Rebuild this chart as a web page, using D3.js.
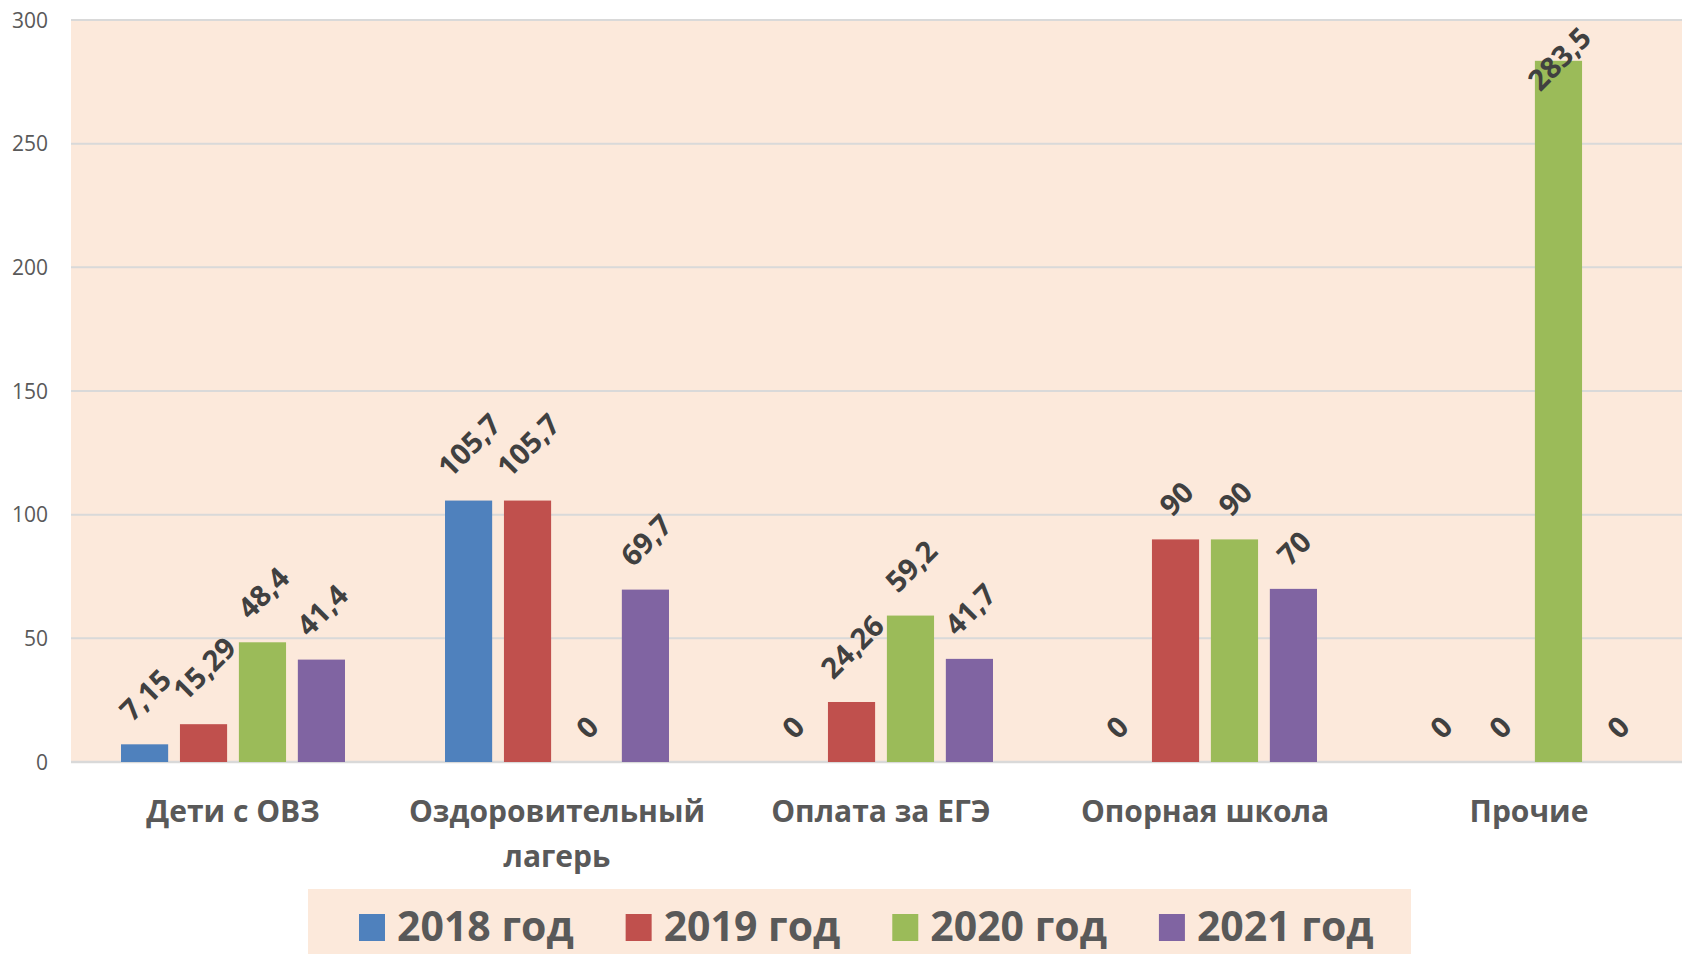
<!DOCTYPE html>
<html>
<head>
<meta charset="utf-8">
<script src="https://cdn.jsdelivr.net/npm/d3@7"></script>
<style>
  html, body { margin: 0; padding: 0; background: #fff; }
  svg { display: block; font-family: "Open Sans", "Noto Sans", sans-serif; }
</style>
</head>
<body>
<div id="chart"></div>
<script>
// данные
const categories = ["Дети с ОВЗ", "Оздоровительный лагерь", "Оплата за ЕГЭ", "Опорная школа", "Прочие"];
const years = ["2018 год", "2019 год", "2020 год", "2021 год"];
const values2018 = [7.15, 105.7, 0, 0, 0];
const values2019 = [15.29, 105.7, 24.26, 90, 0];
const values2020 = [48.4, 0, 59.2, 90, 283.5];
const values2021 = [41.4, 69.7, 41.7, 70, 0];
const yTicks = [0, 50, 100, 150, 200, 250, 300];
const colors = ["#4f81bd", "#c0504d", "#9bbb59", "#8064a2"];

const seriesValues = [values2018, values2019, values2020, values2021];

const width = 1682, height = 954;
const plot = { left: 71, right: 1691, top: 20, bottom: 762 };
const bgColor = "#fce9db";

const svg = d3.select("#chart").append("svg")
    .attr("width", width)
    .attr("height", height);

const x0 = d3.scaleBand()
    .domain(categories)
    .range([plot.left, plot.right]);

const x1 = d3.scaleBand()
    .domain(years)
    .range([50, x0.bandwidth() - 50])
    .paddingInner(0.2);

const y = d3.scaleLinear()
    .domain([0, 300])
    .range([plot.bottom, plot.top]);

// фон области построения
svg.append("rect")
    .attr("x", plot.left)
    .attr("y", plot.top)
    .attr("width", plot.right - plot.left)
    .attr("height", plot.bottom - plot.top)
    .attr("fill", bgColor);

// сетка
svg.append("g")
    .selectAll("line")
    .data(yTicks)
    .enter()
    .append("line")
    .attr("x1", plot.left)
    .attr("x2", plot.right)
    .attr("y1", d => y(d))
    .attr("y2", d => y(d))
    .attr("stroke", "#d9d9d9")
    .attr("stroke-width", d => d === 0 ? 2.5 : 2);

// подписи оси Y
svg.append("g")
    .selectAll("text")
    .data(yTicks)
    .enter()
    .append("text")
    .attr("x", 48)
    .attr("y", d => y(d))
    .attr("dy", "0.36em")
    .attr("text-anchor", "end")
    .attr("font-size", "21px")
    .attr("fill", "#595959")
    .text(d => d);

// столбцы
const rows = [];
categories.forEach((cat, ci) => {
    years.forEach((yr, si) => {
        rows.push({ cat: cat, year: yr, si: si, value: seriesValues[si][ci] });
    });
});

svg.append("g")
    .selectAll("rect")
    .data(rows)
    .enter()
    .append("rect")
    .attr("x", d => x0(d.cat) + x1(d.year))
    .attr("y", d => y(d.value))
    .attr("width", x1.bandwidth())
    .attr("height", d => y(0) - y(d.value))
    .attr("fill", d => colors[d.si]);

// подписи значений (повернуты на -45°)
const fmt = v => String(v).replace(".", ",");
const labelSize = 29;
const gap = 22;

svg.append("g")
    .selectAll("text")
    .data(rows)
    .enter()
    .append("text")
    .attr("font-size", labelSize + "px")
    .attr("font-weight", "bold")
    .attr("fill", "#404040")
    .attr("text-anchor", "middle")
    .attr("dominant-baseline", "central")
    .text(d => fmt(d.value))
    .each(function (d) {
        const len = this.getComputedTextLength();
        const half = (len + labelSize * 0.75) / (2 * Math.SQRT2);
        const cx = x0(d.cat) + x1(d.year) + x1.bandwidth() / 2;
        let cy = y(d.value) - gap - half;
        cy = Math.max(cy, plot.top + half + 4);
        d3.select(this)
            .attr("transform", `translate(${cx},${cy}) rotate(-45)`);
    });

// подписи категорий
const catLabels = svg.append("g")
    .selectAll("text")
    .data(categories)
    .enter()
    .append("text")
    .attr("x", d => x0(d) + x0.bandwidth() / 2)
    .attr("y", 822)
    .attr("text-anchor", "middle")
    .attr("font-size", "30px")
    .attr("font-weight", "bold")
    .attr("fill", "#595959");

catLabels.each(function (d) {
    const el = d3.select(this);
    const words = d.split(" ");
    const maxW = x0.bandwidth() - 20;
    let line = [];
    let tspan = el.append("tspan").attr("x", x0(d) + x0.bandwidth() / 2).attr("dy", 0);
    words.forEach(w => {
        line.push(w);
        tspan.text(line.join(" "));
        if (tspan.node().getComputedTextLength() > maxW && line.length > 1) {
            line.pop();
            tspan.text(line.join(" "));
            line = [w];
            tspan = el.append("tspan")
                .attr("x", x0(d) + x0.bandwidth() / 2)
                .attr("dy", 45)
                .text(w);
        }
    });
});

// легенда
const legend = svg.append("g");
legend.append("rect")
    .attr("x", 308)
    .attr("y", 889)
    .attr("width", 1103)
    .attr("height", 80)
    .attr("fill", bgColor);

let lx = 359;
years.forEach((yr, i) => {
    legend.append("rect")
        .attr("x", lx)
        .attr("y", 914)
        .attr("width", 26)
        .attr("height", 27)
        .attr("fill", colors[i]);
    const t = legend.append("text")
        .attr("x", lx + 38)
        .attr("y", 941)
        .attr("font-size", "41px")
        .attr("font-weight", "bold")
        .attr("fill", "#595959")
        .text(yr);
    lx += 38 + t.node().getComputedTextLength() + 52;
});
</script>
</body>
</html>
